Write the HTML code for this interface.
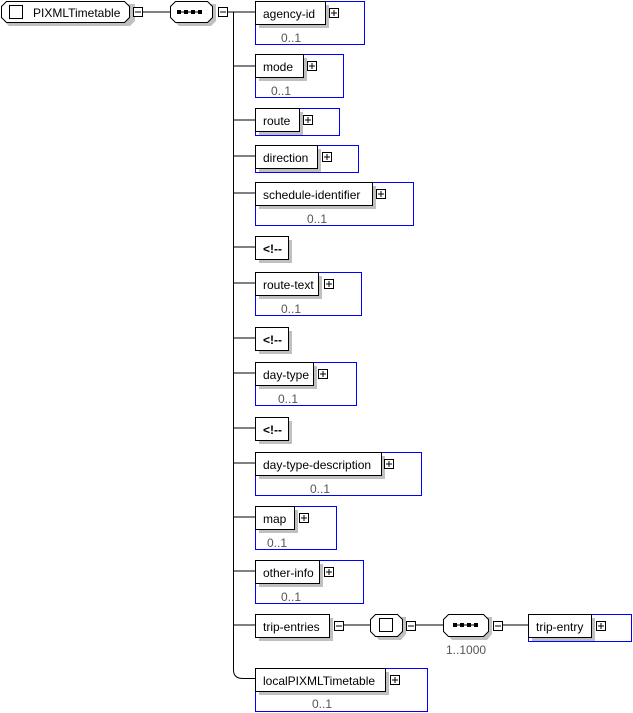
<!DOCTYPE html>
<html><head><meta charset="utf-8"><style>
html,body{margin:0;padding:0;background:#fff;}
svg{display:block;font-family:"Liberation Sans",Arial,sans-serif;font-size:12px;}
</style></head><body>
<svg width="633" height="713" viewBox="0 0 633 713" xmlns="http://www.w3.org/2000/svg">
<defs>
<g id="plus"><rect x="0.5" y="0.5" width="9" height="9" fill="#fff" stroke="#000"/><line x1="2" y1="5" x2="8" y2="5" stroke="#000"/><line x1="5" y1="2" x2="5" y2="8" stroke="#000"/></g>
<g id="minus"><rect x="0.5" y="0.5" width="9" height="9" fill="#fff" stroke="#000"/><line x1="2" y1="5" x2="8" y2="5" stroke="#000"/></g>
<g id="seqdots"><line x1="0" y1="0" x2="24" y2="0" stroke="#000" stroke-width="1"/><rect x="-1" y="-2" width="4" height="4" fill="#000"/><rect x="6" y="-2" width="4" height="4" fill="#000"/><rect x="13" y="-2" width="4" height="4" fill="#000"/><rect x="20" y="-2" width="4" height="4" fill="#000"/></g>
</defs>
<g stroke="#000" fill="none">
<!-- root -->
<polygon points="9,4 135,4 135,6 135,21 130,26 9,26 4,21 4,9" fill="#c0c0c0" stroke="none"/>
<polygon points="6.5,1.5 124.5,1.5 129.5,6.5 129.5,17.5 124.5,22.5 6.5,22.5 1.5,17.5 1.5,6.5" fill="#fff"/>
<rect x="9.5" y="5.5" width="13" height="13" fill="#fff"/>
<line x1="143" y1="12" x2="170" y2="12"/>
<!-- sequence -->
<polygon points="179,4 216,4 216,21 211,26 179,26 174,21 174,9" fill="#c0c0c0" stroke="none"/>
<polygon points="175.5,1.5 207.5,1.5 212.5,6.5 212.5,17.5 207.5,22.5 175.5,22.5 170.5,17.5 170.5,6.5" fill="#fff"/>
<line x1="228" y1="12" x2="255" y2="12"/>
<!-- spine -->
<path d="M233.5,12 V670 Q233.5,678.5 243,678.5 H255"/>
</g>
<use href="#minus" x="133" y="7"/>
<use href="#minus" x="218" y="7"/>
<use href="#seqdots" x="178" y="12"/>
<text x="33" y="17">PIXMLTimetable</text>

<g id="els"></g>
<g stroke="#000" fill="none">
<line x1="234" y1="66" x2="255" y2="66"/>
<line x1="234" y1="120" x2="255" y2="120"/>
<line x1="234" y1="156" x2="255" y2="156"/>
<line x1="234" y1="193" x2="255" y2="193"/>
<line x1="234" y1="247" x2="255" y2="247"/>
<line x1="234" y1="283" x2="255" y2="283"/>
<line x1="234" y1="338" x2="255" y2="338"/>
<line x1="234" y1="373" x2="255" y2="373"/>
<line x1="234" y1="428" x2="255" y2="428"/>
<line x1="234" y1="463" x2="255" y2="463"/>
<line x1="234" y1="517" x2="255" y2="517"/>
<line x1="234" y1="571" x2="255" y2="571"/>
<line x1="234" y1="625" x2="255" y2="625"/>
</g>

<!-- blue outlines -->
<g fill="none" stroke="#0000ff">
<rect x="255.5" y="1.5" width="109" height="43"/>
<rect x="255.5" y="54.5" width="88" height="43"/>
<rect x="255.5" y="108.5" width="84" height="27"/>
<rect x="255.5" y="145.5" width="103" height="27"/>
<rect x="255.5" y="182.5" width="158" height="43"/>
<rect x="255.5" y="272.5" width="106" height="43"/>
<rect x="255.5" y="362.5" width="101" height="43"/>
<rect x="255.5" y="452.5" width="166" height="43"/>
<rect x="255.5" y="506.5" width="81" height="43"/>
<rect x="255.5" y="560.5" width="108" height="43"/>
<rect x="528.5" y="614.5" width="103" height="27"/>
<rect x="255.5" y="668.5" width="172" height="43"/>
</g>

<!-- name boxes: shadows -->
<g fill="#c0c0c0">
<rect x="259" y="5" width="70" height="23"/>
<rect x="259" y="58" width="48" height="23"/>
<rect x="259" y="112" width="44" height="23"/>
<rect x="259" y="149" width="62" height="23"/>
<rect x="259" y="186" width="117" height="23"/>
<rect x="259" y="240" width="33" height="23"/>
<rect x="259" y="276" width="63" height="23"/>
<rect x="259" y="331" width="33" height="23"/>
<rect x="259" y="366" width="58" height="23"/>
<rect x="259" y="421" width="33" height="23"/>
<rect x="259" y="456" width="126" height="23"/>
<rect x="259" y="510" width="39" height="23"/>
<rect x="259" y="564" width="64" height="23"/>
<rect x="259" y="618" width="74" height="23"/>
<rect x="532" y="618" width="63" height="23"/>
<rect x="259" y="672" width="130" height="23"/>
</g>
<g fill="#fff" stroke="#000">
<rect x="255.5" y="1.5" width="70" height="23"/>
<rect x="255.5" y="54.5" width="48" height="23"/>
<rect x="255.5" y="108.5" width="44" height="23"/>
<rect x="255.5" y="145.5" width="62" height="23"/>
<rect x="255.5" y="182.5" width="117" height="23"/>
<rect x="255.5" y="236.5" width="33" height="23"/>
<rect x="255.5" y="272.5" width="63" height="23"/>
<rect x="255.5" y="327.5" width="33" height="23"/>
<rect x="255.5" y="362.5" width="58" height="23"/>
<rect x="255.5" y="417.5" width="33" height="23"/>
<rect x="255.5" y="452.5" width="126" height="23"/>
<rect x="255.5" y="506.5" width="39" height="23"/>
<rect x="255.5" y="560.5" width="64" height="23"/>
<rect x="255.5" y="614.5" width="74" height="23"/>
<rect x="528.5" y="614.5" width="63" height="23"/>
<rect x="255.5" y="668.5" width="130" height="23"/>
</g>
<use href="#plus" x="329" y="8"/>
<use href="#plus" x="307" y="61"/>
<use href="#plus" x="303" y="115"/>
<use href="#plus" x="322" y="152"/>
<use href="#plus" x="376" y="189"/>
<use href="#plus" x="324" y="279"/>
<use href="#plus" x="318" y="369"/>
<use href="#plus" x="384" y="459"/>
<use href="#plus" x="299" y="513"/>
<use href="#plus" x="324" y="567"/>
<use href="#minus" x="334" y="621"/>
<use href="#plus" x="596" y="621"/>
<use href="#plus" x="390" y="675"/>

<g fill="#000">
<text x="263" y="18">agency-id</text>
<text x="263" y="71">mode</text>
<text x="263" y="125">route</text>
<text x="263" y="162">direction</text>
<text x="263" y="199">schedule-identifier</text>
<text x="263" y="253" font-weight="bold">&lt;!--</text>
<text x="263" y="289">route-text</text>
<text x="263" y="344" font-weight="bold">&lt;!--</text>
<text x="263" y="379">day-type</text>
<text x="263" y="434" font-weight="bold">&lt;!--</text>
<text x="263" y="469">day-type-description</text>
<text x="263" y="523">map</text>
<text x="263" y="577">other-info</text>
<text x="263" y="631">trip-entries</text>
<text x="536" y="631">trip-entry</text>
<text x="263" y="685">localPIXMLTimetable</text>
</g>
<g fill="#555">
<text x="281" y="42">0..1</text>
<text x="271" y="95">0..1</text>
<text x="307" y="223">0..1</text>
<text x="281" y="313">0..1</text>
<text x="278" y="403">0..1</text>
<text x="310" y="493">0..1</text>
<text x="267" y="547">0..1</text>
<text x="281" y="601">0..1</text>
<text x="312" y="708">0..1</text>
<text x="446" y="654">1..1000</text>
</g>

<!-- trip-entries chain -->
<g stroke="#000" fill="none">
<line x1="344" y1="625" x2="370" y2="625"/>
<polygon points="379,617 406,617 406,634 401,640 379,640 374,634 374,622" fill="#c0c0c0" stroke="none"/>
<polygon points="375.5,614.5 397.5,614.5 402.5,619.5 402.5,631.5 397.5,636.5 375.5,636.5 370.5,631.5 370.5,619.5" fill="#fff"/>
<rect x="379.5" y="618.5" width="13" height="13" fill="#fff"/>
<line x1="416" y1="625" x2="443" y2="625"/>
<polygon points="452,617 492,617 492,634 487,640 452,640 447,634 447,622" fill="#c0c0c0" stroke="none"/>
<polygon points="448.5,614.5 483.5,614.5 488.5,619.5 488.5,631.5 483.5,636.5 448.5,636.5 443.5,631.5 443.5,619.5" fill="#fff"/>
<line x1="503" y1="625" x2="528" y2="625"/>
</g>
<use href="#minus" x="406" y="621"/>
<use href="#minus" x="493" y="621"/>
<use href="#seqdots" x="454" y="625"/>
</svg>
</body></html>
